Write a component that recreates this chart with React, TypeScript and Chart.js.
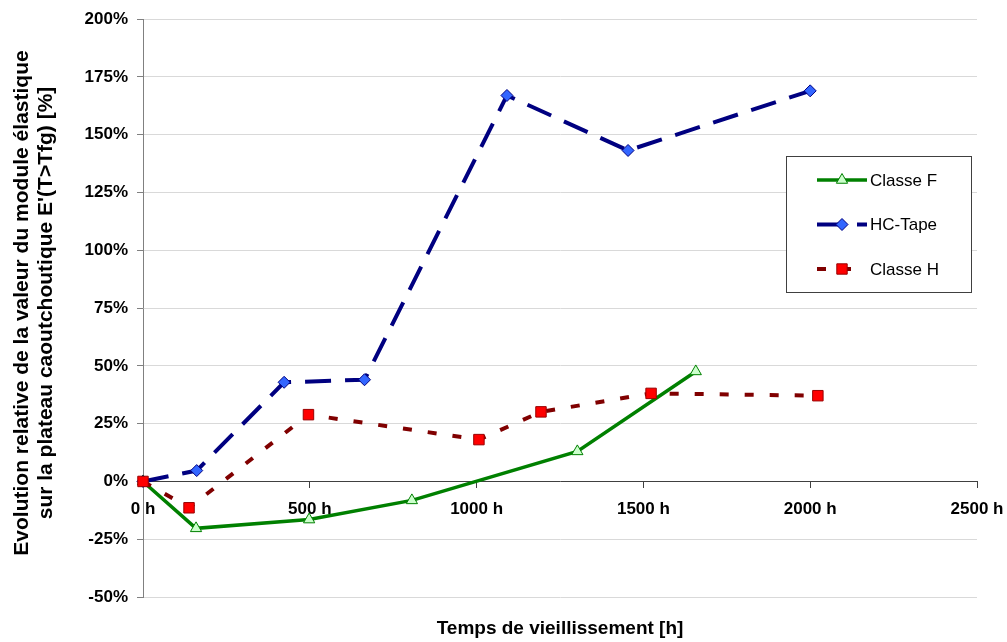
import React, { useEffect, useRef } from 'react';
import { Chart, registerables } from 'chart.js';

Chart.register(...registerables);

// ---- Data ----
const seriesNames = ['Classe F', 'HC-Tape', 'Classe H'];

const hoursClasseF = [0, 159, 498, 806, 1302, 1657];
const valuesClasseF = [0, -20.3, -16.5, -8.2, 13, 47.6];

const hoursHCTape = [0, 161, 423, 664, 1091, 1454, 2000];
const valuesHCTape = [0, 4.7, 42.9, 44, 167, 143.2, 169];

const hoursClasseH = [0, 138, 496, 1007, 1193, 1523, 2023];
const valuesClasseH = [0, -11.4, 28.9, 18.1, 30.1, 38.1, 37.1];

const xMin = 0;
const xMax = 2500;
const xStep = 500;
const yMin = -50;
const yMax = 200;
const yStep = 25;

const xTitle = 'Temps de vieillissement [h]';
const yTitleLines = [
  'Evolution relative de la valeur du module élastique',
  "sur la plateau caoutchoutique E'(T>Tfg) [%]",
];

const FONT = '"Liberation Sans", Arial, sans-serif';

const toPoints = (xs: number[], ys: number[]) => xs.map((x, i) => ({ x, y: ys[i] }));

function drawMarker(ctx: CanvasRenderingContext2D, style: string, x: number, y: number, fill: string, stroke: string) {
  ctx.save();
  ctx.setLineDash([]);
  ctx.fillStyle = fill;
  ctx.strokeStyle = stroke;
  ctx.lineWidth = 1;
  ctx.beginPath();
  if (style === 'triangle') {
    const r = 6.5;
    for (let k = 0; k < 3; k++) {
      const a = (k * 2 * Math.PI) / 3;
      const px = x + Math.sin(a) * r;
      const py = y - Math.cos(a) * r;
      if (k === 0) ctx.moveTo(px, py);
      else ctx.lineTo(px, py);
    }
    ctx.closePath();
  } else if (style === 'rectRot') {
    const r = 6;
    ctx.moveTo(x - r, y);
    ctx.lineTo(x, y - r);
    ctx.lineTo(x + r, y);
    ctx.lineTo(x, y + r);
    ctx.closePath();
  } else {
    const s = 5.2;
    ctx.rect(x - s, y - s, 2 * s, 2 * s);
  }
  ctx.fill();
  ctx.stroke();
  ctx.restore();
}

const decorPlugin = {
  id: 'decor',
  afterDraw(chart: any) {
    const ctx: CanvasRenderingContext2D = chart.ctx;
    ctx.save();
    // Axis titles
    ctx.fillStyle = '#000';
    ctx.font = `bold 19px ${FONT}`;
    ctx.textAlign = 'center';
    ctx.textBaseline = 'alphabetic';
    ctx.fillText(xTitle, 560, 634);

    ctx.save();
    ctx.font = `bold 21px ${FONT}`;
    ctx.translate(28, 303);
    ctx.rotate(-Math.PI / 2);
    ctx.fillText(yTitleLines[0], 0, 0);
    ctx.fillText(yTitleLines[1], 0, 24);
    ctx.restore();

    // Legend box
    const bx = 786, by = 156, bw = 185, bh = 136;
    ctx.fillStyle = '#ffffff';
    ctx.fillRect(bx, by, bw, bh);
    ctx.strokeStyle = '#404040';
    ctx.lineWidth = 1;
    ctx.strokeRect(bx + 0.5, by + 0.5, bw, bh);
    chart.data.datasets.forEach((ds: any, i: number) => {
      const y = 180 + i * 44.5;
      ctx.save();
      ctx.strokeStyle = ds.borderColor;
      ctx.lineWidth = ds.borderWidth;
      ctx.setLineDash(ds.borderDash || []);
      ctx.lineCap = 'butt';
      ctx.beginPath();
      ctx.moveTo(817, y);
      ctx.lineTo(867, y);
      ctx.stroke();
      ctx.restore();
      drawMarker(ctx, ds.pointStyle, 842, y, ds.pointBackgroundColor, ds.pointBorderColor);
      ctx.fillStyle = '#000';
      ctx.font = `17px ${FONT}`;
      ctx.textAlign = 'left';
      ctx.textBaseline = 'middle';
      ctx.fillText(ds.label, 870, y + 1);
    });
    ctx.restore();
  },
};

export default function App() {
  const canvasRef = useRef<HTMLCanvasElement | null>(null);

  useEffect(() => {
    const canvas = canvasRef.current;
    if (!canvas) return;
    const chart = new Chart(canvas, {
      type: 'line',
      data: {
        datasets: [
          {
            label: seriesNames[0],
            data: toPoints(hoursClasseF, valuesClasseF),
            borderColor: '#008000',
            borderWidth: 3.5,
            pointStyle: 'triangle',
            pointRadius: 6.5,
            pointBackgroundColor: '#ccffcc',
            pointBorderColor: '#008000',
            pointBorderWidth: 1,
            order: 2,
            clip: false,
          } as any,
          {
            label: seriesNames[1],
            data: toPoints(hoursHCTape, valuesHCTape),
            borderColor: '#000080',
            borderWidth: 4,
            borderDash: [26, 14],
            pointStyle: 'rectRot',
            pointRadius: 6,
            pointBackgroundColor: '#3366ff',
            pointBorderColor: '#000080',
            pointBorderWidth: 1,
            order: 1,
            clip: false,
          },
          {
            label: seriesNames[2],
            data: toPoints(hoursClasseH, valuesClasseH),
            borderColor: '#800000',
            borderWidth: 4,
            borderDash: [9, 16],
            pointStyle: 'rect',
            pointRadius: 7.4,
            pointBackgroundColor: '#ff0000',
            pointBorderColor: '#990000',
            pointBorderWidth: 1,
            order: 0,
            clip: false,
          },
        ],
      },
      options: {
        animation: false,
        responsive: false,
        devicePixelRatio: 1,
        layout: { padding: { top: 18, right: 30, bottom: 45, left: 0 } },
        plugins: {
          legend: { display: false },
          tooltip: { enabled: false },
        },
        elements: { line: { tension: 0 } },
        scales: {
          x: {
            type: 'linear',
            position: { y: 0 } as any,
            min: xMin,
            max: xMax,
            afterFit: (scale: any) => {
              scale.paddingLeft = 0;
              scale.paddingRight = 0;
            },
            ticks: {
              stepSize: xStep,
              color: '#000',
              font: { family: FONT, size: 17, weight: 'bold' },
              padding: 12,
              maxRotation: 0,
              autoSkip: false,
              callback: (v: any) => `${v} h`,
            },
            grid: {
              drawOnChartArea: false,
              drawTicks: true,
              tickLength: 6,
              tickColor: '#404040',
            },
            border: { color: '#404040', width: 1 },
          },
          y: {
            type: 'linear',
            min: yMin,
            max: yMax,
            afterFit: (scale: any) => {
              scale.width = 143;
            },
            ticks: {
              stepSize: yStep,
              color: '#000',
              font: { family: FONT, size: 17, weight: 'bold' },
              padding: 9,
              callback: (v: any) => `${v}%`,
            },
            grid: {
              color: '#d9d9d9',
              lineWidth: 1,
              drawTicks: true,
              tickLength: 6,
              tickColor: '#808080',
            },
            border: { color: '#808080', width: 1 },
          },
        },
      },
      plugins: [decorPlugin],
    });
    return () => chart.destroy();
  }, []);

  return (
    <div style={{ position: 'fixed', left: 0, top: 0, width: 1007, height: 642, background: '#fff' }}>
      <canvas ref={canvasRef} width={1007} height={642} style={{ display: 'block' }} />
    </div>
  );
}
